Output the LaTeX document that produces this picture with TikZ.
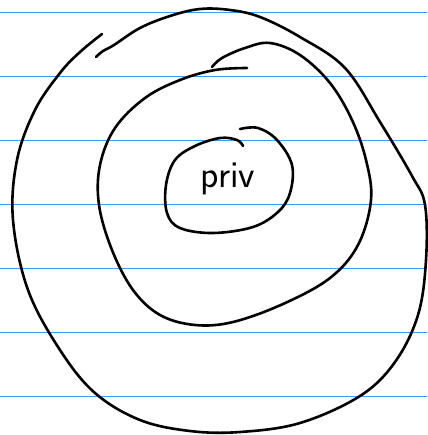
\documentclass[tikz,border=0pt]{standalone}
\usepackage{fontspec}
\begin{document}
\begin{tikzpicture}[x=1pt,y=-1pt,
  ruled/.style={draw={rgb,255:red,60;green,155;blue,250}, line width=1.1pt},
  ink/.style={draw=black, line width=2.6pt, line cap=round, line join=round}]
\useasboundingbox (0,0) rectangle (427,435);
\fill[white] (0,0) rectangle (427,435);
\foreach \yy in {12.3,76.7,140.3,204.3,268.3,332.3,396.7}
  \draw[ruled] (0,\yy) -- (427,\yy);
% outer loop
\draw[ink] plot[smooth, tension=0.6] coordinates {
  (96,57) (103,51) (114,45) (140,28) (170,16) (200,9) (230,10) (260,17) (300,37)
  (345,68) (380,122) (412,176) (425,205) (426,260) (418,315) (395,362) (360,396)
  (300,423) (240,432) (190,431) (140,420) (95,393) (60,350) (28,290) (13,220)
  (17,160) (35,110) (60,73) (80,52) (102,34)};
% middle loop
\draw[ink] plot[smooth, tension=0.6] coordinates {
  (247,68) (215,70) (180,80) (145,98) (115,128) (100,165) (99,205) (112,250)
  (133,290) (160,315) (195,325) (233,322) (283,304) (330,278) (358,245)
  (371,200) (366,160) (352,120) (330,83) (300,55) (270,43) (245,48) (222,58) (212,67)};
% inner loop
\draw[ink] plot[smooth, tension=0.6] coordinates {
  (240,129) (258,128) (277,140) (292,165) (290,193) (278,212) (253,227) (213,233)
  (180,228) (167,213) (166,185) (175,160) (195,146) (220,138) (237,140) (243,146)};
\node[anchor=base, inner sep=0pt] (priv) at (228,188) {\fontsize{38}{38}\selectfont\sffamily priv};
\end{tikzpicture}
\end{document}
